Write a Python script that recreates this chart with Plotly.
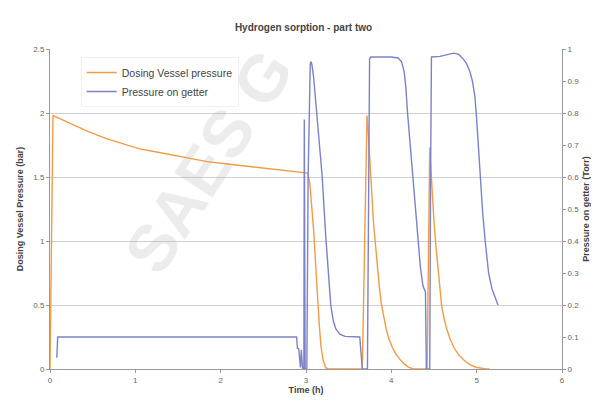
import plotly.graph_objects as go

# Dosing vessel pressure (bar), left axis
dose_t = [0, 0.035, 0.05, 0.1, 0.2, 0.3, 0.45, 0.66, 0.85, 1.05, 1.25, 1.45, 1.65,
          1.84, 2.03, 2.23, 2.42, 2.62, 2.8, 2.95, 3.02,
          3.045, 3.07, 3.09, 3.11, 3.135, 3.155, 3.175, 3.2, 3.23, 3.26,
          3.66, 3.675, 3.69, 3.705, 3.715, 3.73, 3.75, 3.77, 3.79, 3.81, 3.835, 3.86,
          3.88, 3.91, 3.94, 3.97, 4.01, 4.05, 4.1, 4.15, 4.2, 4.26,
          4.42, 4.435, 4.45, 4.465, 4.48, 4.50, 4.52, 4.545, 4.57, 4.59, 4.62, 4.65,
          4.69, 4.74, 4.79, 4.85, 4.92, 5.0, 5.1, 5.15]
dose_p = [0, 1.98, 1.975, 1.96, 1.925, 1.895, 1.855, 1.80, 1.76, 1.72, 1.695, 1.67, 1.645,
          1.62, 1.605, 1.59, 1.575, 1.56, 1.55, 1.54, 1.53,
          1.45, 1.27, 1.08, 0.85, 0.55, 0.35, 0.18, 0.07, 0.01, 0,
          0, 0.6, 1.3, 1.85, 1.98, 1.85, 1.58, 1.35, 1.15, 1.0, 0.8, 0.64,
          0.52, 0.40, 0.31, 0.24, 0.17, 0.12, 0.075, 0.04, 0.015, 0,
          0, 0.9, 1.73, 1.55, 1.35, 1.15, 0.98, 0.78, 0.6, 0.49, 0.39, 0.31,
          0.23, 0.16, 0.11, 0.07, 0.035, 0.012, 0.002, 0]

# Pressure on getter (Torr), right axis
get_t = [0.08, 0.09, 2.89, 2.90, 2.915, 2.935, 2.945, 2.96, 2.975, 2.98, 2.99, 3.01,
         3.025, 3.04, 3.05, 3.06, 3.07, 3.09, 3.12, 3.15, 3.19, 3.23, 3.26, 3.29, 3.32,
         3.35, 3.40, 3.46, 3.63, 3.66,
         3.72, 3.735, 3.745, 3.76, 4.0, 4.08, 4.12, 4.15, 4.17, 4.19, 4.22, 4.25, 4.28,
         4.31, 4.34, 4.37, 4.39, 4.40, 4.41,
         4.45, 4.46, 4.47, 4.57, 4.65, 4.73, 4.79, 4.84, 4.88, 4.92, 4.95, 4.98, 5.0,
         5.02, 5.04, 5.07, 5.10, 5.14, 5.18, 5.25]
get_p = [0.035, 0.10, 0.10, 0.065, 0.063, 0.005, 0.06, 0.0, 0.0, 0.78, 0.0, 0.0,
         0.6, 0.92, 0.955, 0.96, 0.95, 0.91, 0.81, 0.72, 0.60, 0.42, 0.30, 0.20, 0.15,
         0.125, 0.108, 0.102, 0.10, 0.0,
         0.0, 0.6, 0.97, 0.975, 0.975, 0.972, 0.96, 0.93, 0.88, 0.80, 0.70, 0.60, 0.50,
         0.40, 0.32, 0.26, 0.25, 0.24, 0.0,
         0.0, 0.6, 0.975, 0.977, 0.983, 0.987, 0.983, 0.97, 0.955, 0.93, 0.90, 0.85, 0.78,
         0.70, 0.60, 0.49, 0.40, 0.30, 0.25, 0.20]

x_ticks = [0, 1, 2, 3, 4, 5, 6]
left_ticks = [0, 0.5, 1, 1.5, 2, 2.5]
left_labels = ["0", "0.5", "1", "1.5", "2", "2.5"]
right_ticks = [0, 0.1, 0.2, 0.3, 0.4, 0.5, 0.6, 0.7, 0.8, 0.9, 1]
right_labels = ["0", "0.1", "0.2", "0.3", "0.4", "0.5", "0.6", "0.7", "0.8", "0.9", "1"]

ORANGE = "#F29B45"
BLUE = "#7C82C9"
FONT = "Liberation Sans, Arial, sans-serif"

fig = go.Figure()
fig.add_trace(go.Scatter(x=dose_t, y=dose_p, mode="lines", name="Dosing Vessel pressure",
                         line=dict(color=ORANGE, width=1.4), yaxis="y"))
fig.add_trace(go.Scatter(x=get_t, y=get_p, mode="lines", name="Pressure on getter",
                         line=dict(color=BLUE, width=1.4), yaxis="y2"))

fig.add_annotation(text="<b>SAES G</b>", x=0.31, y=0.65, xref="paper", yref="paper",
                   xanchor="center", yanchor="middle",
                   showarrow=False, textangle=-57,
                   font=dict(family=FONT, size=66, color="rgba(170,170,170,0.22)"))

axis_common = dict(zeroline=False, showline=True, linecolor="#999", linewidth=1,
                   ticks="outside", ticklen=3, tickcolor="#999",
                   tickfont=dict(size=8, color="#666"), automargin=False)

# page body has an 8px margin, so the figure is sized to fit the 599x405 window
fig.update_layout(
    width=591, height=397,
    margin=dict(l=42, r=37, t=41, b=36),
    paper_bgcolor="white", plot_bgcolor="white",
    font=dict(family=FONT, size=9, color="#555"),
    title=dict(text="<b>Hydrogen sorption - part two</b>", x=0.5, xanchor="center",
               y=0.95, yanchor="middle", font=dict(family=FONT, size=10, color="#444")),
    showlegend=True,
    legend=dict(x=0.06, y=0.975, xanchor="left", yanchor="top",
                bgcolor="rgba(255,255,255,0)", bordercolor="#f0f0f0", borderwidth=1,
                font=dict(family=FONT, size=10.5, color="#444"), itemwidth=30,
                tracegroupgap=0),
    xaxis=dict(range=[0, 6], tickvals=x_ticks, showgrid=False,
               title=dict(text="<b>Time (h)</b>", standoff=2,
                          font=dict(size=9, color="#444")), **axis_common),
    yaxis=dict(range=[0, 2.5], tickvals=left_ticks, ticktext=left_labels,
               showgrid=True, gridcolor="#cfcfcf", gridwidth=1,
               title=dict(text="<b>Dosing Vessel Pressure (bar)</b>", standoff=8,
                          font=dict(size=9, color="#444")), **axis_common),
    yaxis2=dict(range=[0, 1], tickvals=right_ticks, ticktext=right_labels,
                overlaying="y", side="right", showgrid=False,
                title=dict(text="<b>Pressure on getter (Torr)</b>", standoff=4,
                           font=dict(size=9, color="#444")), **axis_common),
)

fig.write_html("out.html")
